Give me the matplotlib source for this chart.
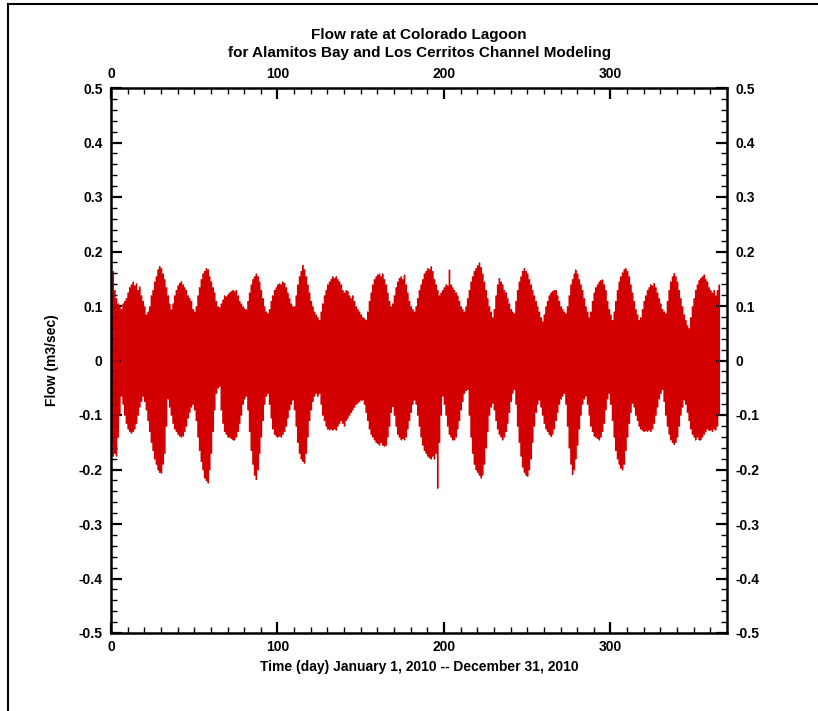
import matplotlib
matplotlib.use('Agg')
import matplotlib.pyplot as plt
from matplotlib.lines import Line2D
import numpy as np

FontSize = 10
RedColor = '#d20000'

# daily max / min of the flow (m3/sec), day 0 .. 365
upper = [
    0.12, 0.165, 0.13, 0.115, 0.105, 0.10, 0.095, 0.105, 0.11, 0.115,
    0.125, 0.135, 0.14, 0.145, 0.138, 0.142, 0.13, 0.136, 0.12, 0.11,
    0.10, 0.085, 0.09, 0.10, 0.12, 0.13, 0.145, 0.155, 0.168, 0.174,
    0.17, 0.16, 0.15, 0.135, 0.12, 0.105, 0.094, 0.105, 0.12, 0.13,
    0.138, 0.143, 0.146, 0.14, 0.135, 0.13, 0.12, 0.115, 0.11, 0.095,
    0.09, 0.10, 0.12, 0.135, 0.15, 0.16, 0.165, 0.17, 0.168, 0.155,
    0.145, 0.135, 0.125, 0.11, 0.10, 0.098, 0.105, 0.112, 0.12, 0.118,
    0.122, 0.125, 0.128, 0.13, 0.127, 0.13, 0.12, 0.11, 0.105, 0.10,
    0.096, 0.094, 0.11, 0.125, 0.14, 0.15, 0.155, 0.16, 0.155, 0.145,
    0.13, 0.115, 0.10, 0.09, 0.087, 0.095, 0.11, 0.12, 0.13, 0.135,
    0.14, 0.142, 0.14, 0.145, 0.143, 0.135, 0.125, 0.115, 0.105, 0.10,
    0.10, 0.12, 0.14, 0.155, 0.165, 0.176, 0.168, 0.155, 0.14, 0.125,
    0.11, 0.10, 0.09, 0.085, 0.08, 0.075, 0.09, 0.105, 0.12, 0.13,
    0.14, 0.145, 0.15, 0.155, 0.152, 0.155, 0.15, 0.145, 0.14, 0.13,
    0.125, 0.13, 0.128, 0.12, 0.115, 0.12, 0.11, 0.10, 0.095, 0.09,
    0.085, 0.08, 0.078, 0.075, 0.09, 0.11, 0.125, 0.14, 0.15, 0.155,
    0.158, 0.16, 0.155, 0.16, 0.15, 0.14, 0.125, 0.11, 0.10, 0.105,
    0.12, 0.135, 0.145, 0.152, 0.155, 0.15, 0.158, 0.14, 0.125, 0.11,
    0.10, 0.095, 0.09, 0.10, 0.115, 0.13, 0.14, 0.15, 0.16, 0.165,
    0.17, 0.168, 0.173, 0.165, 0.15, 0.14, 0.13, 0.12, 0.125, 0.13,
    0.135, 0.14, 0.138, 0.167, 0.14, 0.135, 0.13, 0.125, 0.12, 0.11,
    0.10, 0.095, 0.09, 0.10, 0.115, 0.13, 0.145, 0.155, 0.165, 0.17,
    0.175, 0.18, 0.172, 0.16, 0.145, 0.13, 0.115, 0.10, 0.09, 0.08,
    0.095, 0.12, 0.14, 0.152, 0.145, 0.14, 0.13, 0.125, 0.115, 0.105,
    0.095, 0.09, 0.087, 0.11, 0.13, 0.145, 0.155, 0.165, 0.17, 0.165,
    0.16, 0.15, 0.14, 0.13, 0.12, 0.11, 0.10, 0.09, 0.08, 0.072,
    0.085, 0.10, 0.11, 0.12, 0.125, 0.128, 0.13, 0.13, 0.12, 0.11,
    0.10, 0.095, 0.09, 0.087, 0.10, 0.12, 0.14, 0.15, 0.16, 0.167,
    0.16, 0.15, 0.14, 0.13, 0.115, 0.10, 0.09, 0.08, 0.09, 0.11,
    0.125, 0.135, 0.14, 0.145, 0.148, 0.149, 0.14, 0.13, 0.11, 0.095,
    0.085, 0.075, 0.09, 0.11, 0.13, 0.145, 0.155, 0.162, 0.168, 0.17,
    0.165, 0.155, 0.14, 0.125, 0.11, 0.095, 0.085, 0.075, 0.08, 0.095,
    0.11, 0.12, 0.13, 0.135, 0.14, 0.138, 0.143, 0.135, 0.125, 0.115,
    0.105, 0.095, 0.09, 0.087, 0.11, 0.13, 0.145, 0.155, 0.161, 0.155,
    0.145, 0.13, 0.115, 0.10, 0.085, 0.075, 0.065, 0.06, 0.08, 0.10,
    0.115, 0.13, 0.14, 0.148, 0.152, 0.155, 0.158, 0.15, 0.145, 0.135,
    0.13, 0.125, 0.13, 0.12, 0.13, 0.14,
]
lower = [
    -0.15, -0.175, -0.17, -0.175, -0.14, -0.10, -0.065, -0.08, -0.10, -0.115,
    -0.125, -0.13, -0.133, -0.13, -0.125, -0.115, -0.10, -0.085, -0.075, -0.065,
    -0.075, -0.09, -0.11, -0.13, -0.15, -0.165, -0.18, -0.19, -0.2, -0.205,
    -0.206, -0.19, -0.17, -0.12, -0.07, -0.085, -0.10, -0.115, -0.125, -0.13,
    -0.135, -0.138, -0.14, -0.138, -0.13, -0.12, -0.105, -0.095, -0.085, -0.08,
    -0.09, -0.11, -0.14, -0.165, -0.185, -0.2, -0.215, -0.22, -0.224, -0.2,
    -0.17, -0.13, -0.09, -0.06, -0.05, -0.047, -0.09, -0.115, -0.13, -0.135,
    -0.14, -0.14, -0.143, -0.145, -0.145, -0.14, -0.13, -0.115, -0.10, -0.08,
    -0.07, -0.065, -0.09, -0.13, -0.165, -0.19, -0.21, -0.218, -0.2, -0.17,
    -0.14, -0.11, -0.08, -0.065, -0.06, -0.08, -0.105, -0.125, -0.135, -0.138,
    -0.14, -0.138, -0.14, -0.135, -0.13, -0.12, -0.105, -0.09, -0.08, -0.072,
    -0.09, -0.12, -0.15, -0.17, -0.18, -0.185, -0.188, -0.17, -0.14, -0.11,
    -0.09, -0.075, -0.065, -0.06, -0.065, -0.06, -0.08, -0.10, -0.11, -0.12,
    -0.125, -0.127, -0.125, -0.127, -0.125, -0.127, -0.12, -0.115, -0.11, -0.115,
    -0.12, -0.11, -0.105, -0.10, -0.095, -0.09, -0.085, -0.08, -0.078, -0.075,
    -0.072, -0.072, -0.08, -0.095, -0.11, -0.125, -0.135, -0.14, -0.145, -0.15,
    -0.152, -0.155, -0.15, -0.155, -0.157, -0.155, -0.14, -0.12, -0.095, -0.084,
    -0.10, -0.12, -0.135, -0.14, -0.145, -0.143, -0.145, -0.14, -0.125, -0.11,
    -0.095, -0.08, -0.072, -0.08, -0.10, -0.12, -0.14, -0.155, -0.165, -0.17,
    -0.175, -0.178, -0.18, -0.175, -0.18, -0.17, -0.234, -0.15, -0.10, -0.065,
    -0.08, -0.10, -0.12, -0.135, -0.14, -0.145, -0.145, -0.14, -0.125, -0.11,
    -0.09, -0.075, -0.06, -0.055, -0.053, -0.10, -0.14, -0.17, -0.19, -0.20,
    -0.205, -0.21, -0.215, -0.21, -0.19, -0.16, -0.13, -0.10, -0.085, -0.078,
    -0.09, -0.11, -0.125, -0.135, -0.14, -0.145, -0.14, -0.13, -0.115, -0.095,
    -0.075, -0.06, -0.053, -0.08, -0.12, -0.15, -0.175, -0.195, -0.205, -0.21,
    -0.212, -0.20, -0.18, -0.15, -0.12, -0.095, -0.08, -0.072, -0.085, -0.10,
    -0.115, -0.125, -0.13, -0.135, -0.139, -0.135, -0.125, -0.11, -0.095, -0.08,
    -0.07, -0.065, -0.06, -0.08, -0.12, -0.16, -0.19, -0.209, -0.20, -0.18,
    -0.155, -0.125, -0.10, -0.08, -0.07, -0.065, -0.08, -0.10, -0.12, -0.13,
    -0.138, -0.14, -0.143, -0.145, -0.14, -0.13, -0.115, -0.09, -0.07, -0.06,
    -0.08, -0.11, -0.14, -0.165, -0.18, -0.19, -0.197, -0.20, -0.19, -0.165,
    -0.14, -0.115, -0.095, -0.078, -0.085, -0.10, -0.11, -0.12, -0.125, -0.128,
    -0.13, -0.128, -0.13, -0.127, -0.13, -0.125, -0.115, -0.10, -0.085, -0.07,
    -0.06, -0.053, -0.075, -0.10, -0.12, -0.135, -0.145, -0.15, -0.154, -0.15,
    -0.14, -0.12, -0.10, -0.085, -0.072, -0.08, -0.095, -0.11, -0.125, -0.135,
    -0.14, -0.145, -0.14, -0.145, -0.145, -0.14, -0.135, -0.13, -0.125, -0.128,
    -0.127, -0.13, -0.125, -0.127, -0.12, -0.10,
]
days = np.arange(len(upper))

x_ticks = [0, 100, 200, 300]
y_ticks = [0.5, 0.4, 0.3, 0.2, 0.1, 0, -0.1, -0.2, -0.3, -0.4, -0.5]
y_labels = ['0.5', '0.4', '0.3', '0.2', '0.1', '0', '-0.1', '-0.2', '-0.3', '-0.4', '-0.5']

plt.rcParams['font.family'] = ['Liberation Sans', 'DejaVu Sans']
plt.rcParams['font.weight'] = 'bold'

fig = plt.figure(figsize=(8.18, 7.11), dpi=100)
ax = fig.add_axes([111/818, 1 - 633/711, 616/818, 545/711])

ax.fill_between(days, lower, upper, step='mid', color=RedColor, linewidth=0)
ax.vlines(days, lower, upper, color=RedColor, linewidth=0.8)

ax.set_xlim(0, 370)
ax.set_ylim(-0.5, 0.5)
ax.set_xticks(x_ticks)
ax.set_xticks(np.arange(10, 370, 10), minor=True)
ax.set_yticks(y_ticks)
ax.set_yticklabels(y_labels)
ax.set_yticks(np.arange(-0.48, 0.5, 0.02), minor=True)

for s in ax.spines.values():
    s.set_linewidth(1.8)
ax.tick_params(which='both', direction='in', top=True, right=True,
               labeltop=True, labelright=True, labelsize=FontSize)
ax.tick_params(which='major', length=8, width=1.6, pad=5)
ax.tick_params(which='minor', length=4, width=1.0)
ax.tick_params(axis='y', which='major', pad=6)
for lab in ax.get_xticklabels() + ax.get_yticklabels():
    lab.set_fontweight('bold')

ax.set_xlabel('Time (day) January 1, 2010 -- December 31, 2010',
              fontsize=FontSize, fontweight='bold', labelpad=4)
ax.set_ylabel('Flow (m3/sec)', fontsize=FontSize, fontweight='bold', labelpad=14)
ax.set_title('Flow rate at Colorado Lagoon\nfor Alamitos Bay and Los Cerritos Channel Modeling',
             fontsize=11, fontweight='bold', pad=22, linespacing=1.4)

# page frame: left and top border
fig.add_artist(Line2D([7.5/818, 7.5/818], [0, 1 - 4/711], color='k', linewidth=1.5))
fig.add_artist(Line2D([7.5/818, 1], [1 - 4/711, 1 - 4/711], color='k', linewidth=1.5))

plt.savefig('out.png', dpi=100)
